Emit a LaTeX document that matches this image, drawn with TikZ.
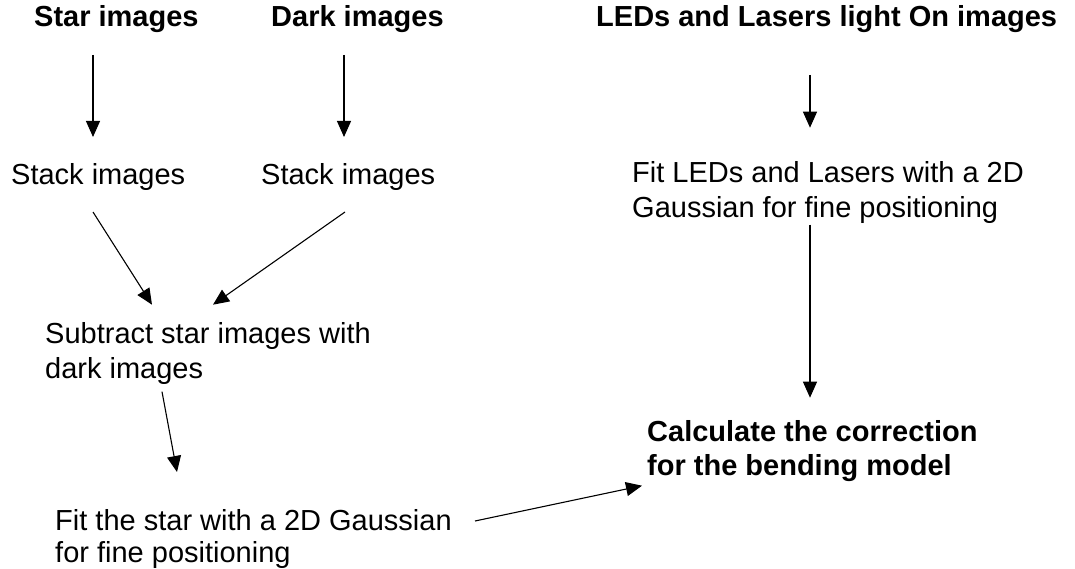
\documentclass[tikz,border=0pt]{standalone}
\usepackage{fontspec}
\setmainfont{Liberation Sans}
\usetikzlibrary{arrows.meta,calc}
\begin{document}
\begin{tikzpicture}[x=1pt,y=-1pt,
  txt/.style={inner sep=0pt, anchor=base west, align=left, font=\fontsize{29}{35}\selectfont},
  btxt/.style={txt, font=\fontsize{29}{33.5}\selectfont\bfseries},
  arr/.style={draw=black, line width=1.1pt, -{Triangle[length=16pt,width=14pt]}}]
\useasboundingbox[fill=white] (0,0) rectangle (1075,569);
\node[btxt] (star) at (34,27) {Star images};
\node[btxt] (dark) at (271,27) {Dark images};
\node[btxt] (led) at (596,27) {LEDs and Lasers light On images};
\node[txt] (stack1) at (11,185) {Stack images};
\node[txt] (stack2) at (261,185) {Stack images};
\node[txt] (fitled) at (632,218) {Fit LEDs and Lasers with a 2D\\Gaussian for fine positioning};
\node[txt] (sub) at (45,378) {Subtract star images with\\dark images};
\node[btxt] (calc) at (647,475) {Calculate the correction\\for the bending model};
\node[txt, font=\fontsize{29}{32.5}\selectfont] (fitstar) at (55,562.5) {Fit the star with a 2D Gaussian\\for fine positioning};
\draw[arr] ($(star.base west)+(59,28)$) -- ($(stack1.base west)+(82,-48)$);
\draw[arr] ($(dark.base west)+(73,28)$) -- ($(stack2.base west)+(83,-48)$);
\draw[arr] ($(led.base west)+(214,48)$) -- ($(fitled.base west)+(178,-90.3)$);
\draw[arr] ($(stack1.base west)+(82,27)$) -- ($(sub.base west)+(107,-73.3)$);
\draw[arr] ($(stack2.base west)+(84,27)$) -- ($(sub.base west)+(168,-73.3)$);
\draw[arr] ($(fitled.base west)+(178,6.7)$) -- ($(calc.base west)+(163,-77.3)$);
\draw[arr] ($(sub.base west)+(117,13.7)$) -- ($(fitstar.base west)+(122,-90.5)$);
\draw[arr] ($(fitstar.base west)+(420,-41.5)$) -- ($(calc.base west)+(-5,10.7)$);
\end{tikzpicture}
\end{document}
